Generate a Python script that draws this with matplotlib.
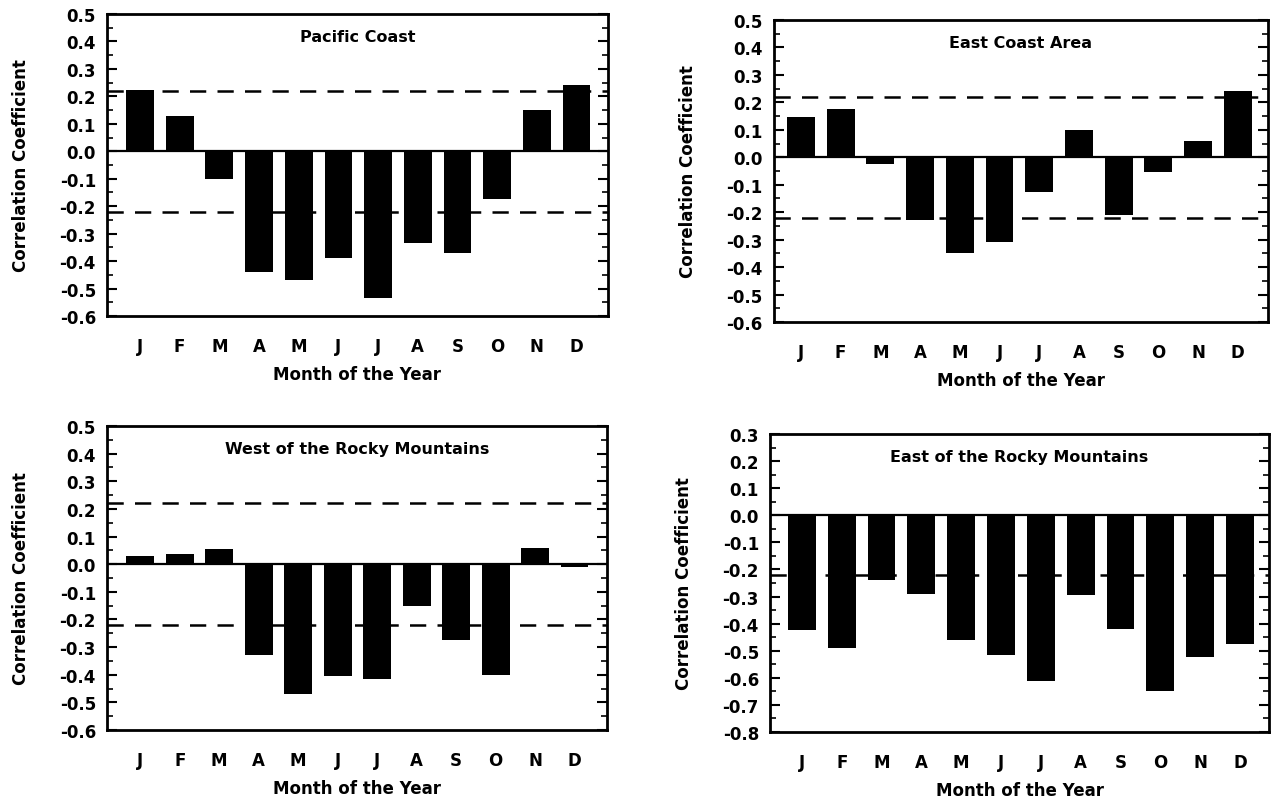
import matplotlib
matplotlib.use("Agg")
import matplotlib.pyplot as plt
from matplotlib.ticker import MultipleLocator, FormatStrFormatter
import numpy as np

plt.rcParams['font.family'] = ['DejaVu Sans']
plt.rcParams['axes.unicode_minus'] = False

months = ["J", "F", "M", "A", "M", "J", "J", "A", "S", "O", "N", "D"]

pacific_coast = [0.225, 0.13, -0.10, -0.44, -0.47, -0.39, -0.535, -0.335, -0.37, -0.175, 0.15, 0.24]
east_coast = [0.145, 0.175, -0.025, -0.23, -0.35, -0.31, -0.125, 0.10, -0.21, -0.055, 0.06, 0.24]
west_rockies = [0.03, 0.035, 0.055, -0.33, -0.47, -0.405, -0.415, -0.15, -0.275, -0.40, 0.06, -0.01]
east_rockies = [-0.425, -0.49, -0.24, -0.29, -0.46, -0.515, -0.61, -0.295, -0.42, -0.65, -0.525, -0.475]

titles = ["Pacific Coast", "East Coast Area", "West of the Rocky Mountains", "East of the Rocky Mountains"]
series = [pacific_coast, east_coast, west_rockies, east_rockies]
ylims = [(-0.6, 0.5), (-0.6, 0.5), (-0.6, 0.5), (-0.8, 0.3)]
sig_levels = [[0.22, -0.22], [0.22, -0.22], [0.22, -0.22], [-0.22]]

positions = [
    [0.0840, 0.6052, 0.3932, 0.3761],
    [0.6075, 0.5978, 0.3878, 0.3761],
    [0.0840, 0.0897, 0.3925, 0.3786],
    [0.6044, 0.0872, 0.3917, 0.3711],
]
xlims = [(-0.83, 11.79), (-0.68, 11.76), (-0.84, 11.82), (-0.80, 11.73)]

fig = plt.figure(figsize=(12.74, 8.03), dpi=100)

for i in range(4):
    ax = fig.add_axes(positions[i])
    x = np.arange(len(months))
    for lvl in sig_levels[i]:
        ax.axhline(lvl, color='black', lw=1.8, dashes=(6.5, 4.5), zorder=1)
    ax.bar(x, series[i], width=0.7, color='black', zorder=2)
    ax.axhline(0, color='black', lw=1.6, zorder=3)
    ax.set_xlim(*xlims[i])
    ax.set_ylim(*ylims[i])
    ax.set_xticks(x)
    ax.set_xticklabels(months, fontsize=12, fontweight='bold')
    ax.tick_params(axis='x', length=0, pad=15)
    ax.yaxis.set_major_locator(MultipleLocator(0.1))
    ax.yaxis.set_minor_locator(MultipleLocator(0.05))
    ax.yaxis.set_major_formatter(FormatStrFormatter('%.1f'))
    ax.tick_params(axis='y', which='major', direction='in', length=7, width=1.5,
                   left=True, right=True, labelsize=12, pad=8)
    ax.tick_params(axis='y', which='minor', direction='in', length=4, width=1.2,
                   left=True, right=True)
    for lab in ax.get_yticklabels():
        lab.set_fontweight('bold')
    for sp in ax.spines.values():
        sp.set_linewidth(2.0)
    ax.set_ylabel("Correlation Coefficient", fontsize=12, fontweight='bold', labelpad=21)
    ax.set_xlabel("Month of the Year", fontsize=12, fontweight='bold', labelpad=7)
    ax.text(0.5, 0.925, titles[i], transform=ax.transAxes, ha='center', va='center',
            fontsize=11.5, fontweight='bold')

fig.savefig("out.png", dpi=100)
